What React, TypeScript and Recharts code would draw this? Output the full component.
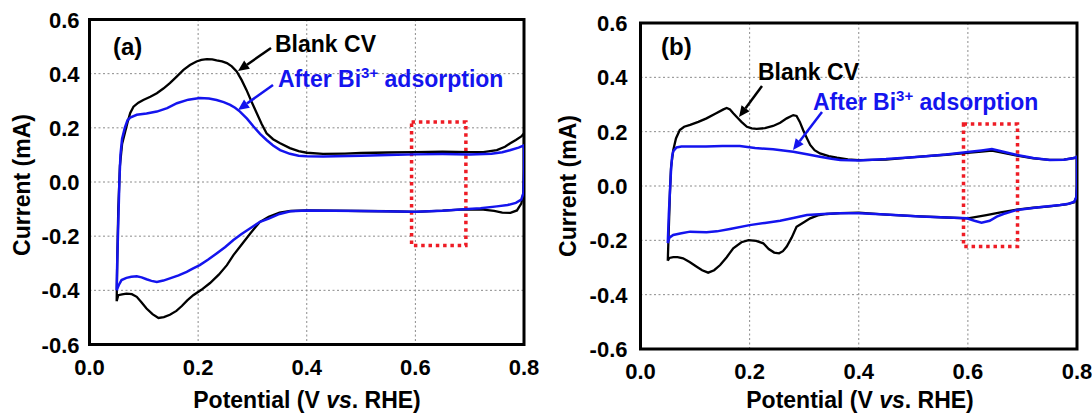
import { LineChart, Line, XAxis, YAxis, CartesianGrid, ReferenceArea } from 'recharts';

type Pt = [number, number];

const X_TICKS = [0, 0.2, 0.4, 0.6, 0.8];
const Y_TICKS = [-0.6, -0.4, -0.2, 0, 0.2, 0.4, 0.6];

// panel (a): blank CV vs after Bi3+ adsorption
const BLANK_A: Pt[] = [
  [0.05, -0.44], [0.051, -0.3], [0.053, -0.1], [0.056, 0.06], [0.06, 0.14], [0.065, 0.18],
  [0.07, 0.22], [0.075, 0.255], [0.081, 0.278], [0.09, 0.293], [0.099, 0.303], [0.112, 0.315], [0.124, 0.328],
  [0.136, 0.345], [0.148, 0.365], [0.161, 0.39], [0.173, 0.414], [0.185, 0.432], [0.197, 0.445],
  [0.206, 0.451], [0.216, 0.454], [0.226, 0.453], [0.234, 0.449], [0.244, 0.445], [0.253, 0.439],
  [0.262, 0.427], [0.271, 0.408], [0.28, 0.377], [0.289, 0.34], [0.298, 0.298], [0.308, 0.254],
  [0.317, 0.214], [0.326, 0.18], [0.338, 0.158], [0.351, 0.143], [0.369, 0.125], [0.385, 0.114],
  [0.4, 0.108], [0.43, 0.104], [0.47, 0.105], [0.5, 0.107], [0.55, 0.109], [0.6, 0.11],
  [0.65, 0.112], [0.7, 0.11], [0.725, 0.11], [0.75, 0.118], [0.765, 0.13], [0.774, 0.142],
  [0.785, 0.155], [0.795, 0.168], [0.8, 0.18],
  [0.8, 0.05], [0.799, -0.04], [0.795, -0.08], [0.787, -0.105], [0.775, -0.114], [0.76, -0.113],
  [0.745, -0.107], [0.725, -0.102], [0.69, -0.101], [0.65, -0.106], [0.6, -0.11], [0.55, -0.108],
  [0.5, -0.107], [0.45, -0.106], [0.4, -0.105], [0.37, -0.107], [0.35, -0.113], [0.33, -0.128],
  [0.314, -0.147], [0.305, -0.168], [0.296, -0.19], [0.287, -0.213], [0.277, -0.239], [0.265, -0.27],
  [0.253, -0.307], [0.238, -0.342], [0.222, -0.373], [0.206, -0.398], [0.191, -0.418], [0.18, -0.437],
  [0.17, -0.458], [0.16, -0.476], [0.148, -0.49], [0.137, -0.499], [0.127, -0.502], [0.116, -0.488],
  [0.105, -0.467], [0.096, -0.445], [0.087, -0.424], [0.078, -0.414], [0.068, -0.412], [0.06, -0.415],
  [0.053, -0.418], [0.05, -0.44],
];

const BI_A: Pt[] = [
  [0.05, -0.4], [0.051, -0.3], [0.053, -0.15], [0.055, 0.0], [0.057, 0.1], [0.06, 0.16],
  [0.065, 0.2], [0.07, 0.228], [0.075, 0.238], [0.087, 0.248], [0.105, 0.253], [0.124, 0.26],
  [0.143, 0.273], [0.161, 0.291], [0.182, 0.304], [0.203, 0.31], [0.22, 0.308], [0.234, 0.303],
  [0.247, 0.295], [0.259, 0.285], [0.268, 0.274], [0.277, 0.26], [0.29, 0.234], [0.302, 0.205],
  [0.314, 0.178], [0.326, 0.155], [0.338, 0.135], [0.351, 0.118], [0.369, 0.104], [0.385, 0.097],
  [0.4, 0.095], [0.43, 0.094], [0.5, 0.097], [0.55, 0.1], [0.6, 0.102], [0.65, 0.103],
  [0.7, 0.102], [0.74, 0.104], [0.76, 0.11], [0.774, 0.117], [0.79, 0.127], [0.8, 0.135],
  [0.8, 0.03], [0.799, -0.04], [0.795, -0.065], [0.785, -0.077], [0.77, -0.085], [0.75, -0.09],
  [0.72, -0.097], [0.69, -0.101], [0.65, -0.106], [0.6, -0.11], [0.5, -0.107], [0.4, -0.105],
  [0.37, -0.108], [0.35, -0.118], [0.33, -0.135], [0.314, -0.147], [0.296, -0.171], [0.28, -0.192],
  [0.265, -0.214], [0.25, -0.24], [0.234, -0.264], [0.218, -0.287], [0.203, -0.307], [0.19, -0.32],
  [0.179, -0.332], [0.164, -0.345], [0.148, -0.356], [0.136, -0.364], [0.124, -0.369], [0.114, -0.365],
  [0.105, -0.359], [0.096, -0.352], [0.087, -0.348], [0.077, -0.35], [0.068, -0.354], [0.059, -0.362],
  [0.054, -0.38], [0.05, -0.4],
];

// panel (b)
const BLANK_B: Pt[] = [
  [0.05, -0.275], [0.052, -0.15], [0.054, -0.02], [0.056, 0.07], [0.06, 0.132], [0.065, 0.175],
  [0.072, 0.206], [0.08, 0.218], [0.091, 0.225], [0.106, 0.236], [0.121, 0.249], [0.137, 0.266],
  [0.152, 0.282], [0.158, 0.287], [0.164, 0.282], [0.17, 0.268], [0.176, 0.255], [0.185, 0.236],
  [0.195, 0.218], [0.204, 0.212], [0.213, 0.21], [0.228, 0.213], [0.243, 0.221], [0.256, 0.233],
  [0.268, 0.249], [0.28, 0.261], [0.286, 0.258], [0.292, 0.236], [0.298, 0.206], [0.305, 0.176],
  [0.311, 0.151], [0.319, 0.132], [0.329, 0.12], [0.345, 0.11], [0.36, 0.104], [0.38, 0.098],
  [0.4, 0.095], [0.45, 0.097], [0.512, 0.108], [0.56, 0.115], [0.604, 0.123], [0.625, 0.127],
  [0.644, 0.13], [0.665, 0.122], [0.69, 0.112], [0.72, 0.102], [0.75, 0.096], [0.776, 0.097],
  [0.8, 0.105],
  [0.8, 0.0], [0.799, -0.04], [0.795, -0.06], [0.78, -0.068], [0.75, -0.075], [0.72, -0.08],
  [0.69, -0.087], [0.66, -0.097], [0.634, -0.107], [0.6, -0.119], [0.55, -0.115], [0.512, -0.112],
  [0.45, -0.105], [0.4, -0.098], [0.366, -0.1], [0.341, -0.103], [0.325, -0.108], [0.311, -0.119],
  [0.298, -0.135], [0.286, -0.15], [0.277, -0.19], [0.268, -0.223], [0.261, -0.24], [0.254, -0.248],
  [0.245, -0.245], [0.235, -0.232], [0.225, -0.211], [0.212, -0.202], [0.198, -0.199], [0.185, -0.207],
  [0.17, -0.229], [0.158, -0.262], [0.146, -0.291], [0.135, -0.31], [0.124, -0.319], [0.113, -0.31],
  [0.103, -0.297], [0.09, -0.28], [0.078, -0.266], [0.068, -0.262], [0.06, -0.262], [0.053, -0.265],
  [0.05, -0.275],
];

const BI_B: Pt[] = [
  [0.05, -0.21], [0.052, -0.1], [0.054, -0.02], [0.056, 0.06], [0.058, 0.11], [0.06, 0.128],
  [0.066, 0.142], [0.075, 0.145], [0.091, 0.145], [0.12, 0.145], [0.15, 0.147], [0.182, 0.147],
  [0.21, 0.14], [0.243, 0.135], [0.28, 0.126], [0.305, 0.117], [0.329, 0.108], [0.35, 0.1],
  [0.366, 0.096], [0.4, 0.094], [0.45, 0.099], [0.512, 0.108], [0.56, 0.116], [0.604, 0.126],
  [0.625, 0.131], [0.644, 0.136], [0.665, 0.126], [0.69, 0.114], [0.72, 0.103], [0.75, 0.096],
  [0.776, 0.097], [0.795, 0.103], [0.8, 0.108],
  [0.8, 0.0], [0.799, -0.04], [0.795, -0.058], [0.785, -0.065], [0.769, -0.07], [0.73, -0.078],
  [0.69, -0.088], [0.665, -0.103], [0.653, -0.113], [0.64, -0.128], [0.625, -0.135], [0.612, -0.128],
  [0.598, -0.119], [0.55, -0.115], [0.512, -0.112], [0.45, -0.105], [0.4, -0.1], [0.366, -0.1],
  [0.335, -0.103], [0.305, -0.107], [0.28, -0.118], [0.256, -0.128], [0.228, -0.136], [0.2, -0.144],
  [0.164, -0.158], [0.14, -0.167], [0.121, -0.17], [0.105, -0.169], [0.091, -0.168], [0.075, -0.174],
  [0.06, -0.18], [0.053, -0.19], [0.05, -0.21],
];

// dotted red boxes [x1, x2, y1, y2]
const BOX_A = [0.593, 0.693, -0.234, 0.222];
const BOX_B = [0.592, 0.691, -0.223, 0.228];

const FONT = "'Liberation Sans', Arial, sans-serif";
const BLUE = '#1414ee';
const RED = '#ee1c25';

const toPts = (arr: Pt[]) => arr.map(([x, y]) => ({ x, y }));
const fmt = (v: number) => v.toFixed(1);

const XTick = (props: any) => {
  const { x, y, payload } = props;
  return (
    <text x={x} y={y} dy={16} textAnchor="middle" fill="#000" fontSize={22} fontWeight={700} fontFamily={FONT}>
      {fmt(payload.value)}
    </text>
  );
};

const YTick = (props: any) => {
  const { x, y, payload } = props;
  return (
    <text x={x} y={y} dy={8} textAnchor="end" fill="#000" fontSize={22} fontWeight={700} fontFamily={FONT}>
      {fmt(payload.value)}
    </text>
  );
};

interface PanelProps {
  blank: Pt[];
  bi: Pt[];
  box: number[];
  margin: { top: number; right: number; bottom: number; left: number };
  yWidth: number;
  yTickMargin: number;
}

function Panel({ blank, bi, box, margin, yWidth, yTickMargin }: PanelProps) {
  return (
    <LineChart width={546} height={416} margin={margin}>
      <CartesianGrid stroke="#8a8a8a" strokeDasharray="2 2.5" />
      <XAxis
        dataKey="x"
        type="number"
        domain={[0, 0.8]}
        ticks={X_TICKS}
        axisLine={false}
        tickLine={false}
        tickMargin={8}
        height={40}
        tick={<XTick />}
        allowDataOverflow
      />
      <YAxis
        type="number"
        domain={[-0.6, 0.6]}
        ticks={Y_TICKS}
        axisLine={false}
        tickLine={false}
        tickMargin={yTickMargin}
        width={yWidth}
        tick={<YTick />}
        allowDataOverflow
      />
      <Line data={toPts(blank)} dataKey="y" type="linear" stroke="#000" strokeWidth={2.3} dot={false} isAnimationActive={false} />
      <Line data={toPts(bi)} dataKey="y" type="linear" stroke={BLUE} strokeWidth={2.5} dot={false} isAnimationActive={false} />
      <ReferenceArea
        x1={box[0]} x2={box[1]} y1={box[2]} y2={box[3]}
        fill="none" stroke={RED} strokeWidth={3.5} strokeDasharray="3.5 3.8" ifOverflow="visible"
      />
      <ReferenceArea
        x1={0} x2={0.8} y1={-0.6} y2={0.6}
        fill="none" stroke="#000" strokeWidth={3} ifOverflow="visible"
      />
    </LineChart>
  );
}

function Arrow({ x1, y1, x2, y2, color }: { x1: number; y1: number; x2: number; y2: number; color: string }) {
  const a = Math.atan2(y2 - y1, x2 - x1);
  const len = 11;
  const half = 5;
  const bx = x2 - len * Math.cos(a);
  const by = y2 - len * Math.sin(a);
  const px = -Math.sin(a) * half;
  const py = Math.cos(a) * half;
  return (
    <g>
      <line x1={x1} y1={y1} x2={bx} y2={by} stroke={color} strokeWidth={2.5} />
      <polygon points={`${x2},${y2} ${bx + px},${by + py} ${bx - px},${by - py}`} fill={color} />
    </g>
  );
}

function Annotations() {
  const t = { fontFamily: FONT, fontWeight: 700, fontSize: 23 } as const;
  return (
    <svg width={1092} height={416} style={{ position: 'absolute', left: 0, top: 0, pointerEvents: 'none' }}>
      {/* axis titles */}
      <text {...t} fill="#000" textAnchor="middle" transform="translate(30,185) rotate(-90)">Current (mA)</text>
      <text {...t} fill="#000" textAnchor="middle" transform="translate(576,186) rotate(-90)">Current (mA)</text>
      <text {...t} fill="#000" textAnchor="middle" x={307} y={408}>
        Potential (V <tspan fontStyle="italic">vs</tspan>. RHE)
      </text>
      <text {...t} fill="#000" textAnchor="middle" x={860} y={408}>
        Potential (V <tspan fontStyle="italic">vs</tspan>. RHE)
      </text>

      {/* panel (a) */}
      <text {...t} fontSize={24} fill="#000" x={113} y={55}>(a)</text>
      <text {...t} fill="#000" x={275} y={52}>Blank CV</text>
      <Arrow x1={271} y1={48} x2={238} y2={71} color="#000" />
      <text {...t} fill={BLUE} x={278} y={87}>
        After Bi<tspan fontSize={15} dy={-9}>3+</tspan><tspan dy={9}> adsorption</tspan>
      </text>
      <Arrow x1={273} y1={85} x2={238} y2={110} color={BLUE} />

      {/* panel (b) */}
      <text {...t} fontSize={24} fill="#000" x={661} y={55}>(b)</text>
      <text {...t} fill="#000" x={758} y={80}>Blank CV</text>
      <Arrow x1={762} y1={86} x2={739} y2={117} color="#000" />
      <text {...t} fill={BLUE} x={813} y={110}>
        After Bi<tspan fontSize={15} dy={-9}>3+</tspan><tspan dy={9}> adsorption</tspan>
      </text>
      <Arrow x1={822} y1={112} x2={793} y2={150} color={BLUE} />
    </svg>
  );
}

export default function App() {
  return (
    <div style={{ position: 'absolute', left: 0, top: 0, width: 1092, height: 416, background: '#fff' }}>
      <div style={{ position: 'absolute', left: 0, top: 0 }}>
        <Panel
          blank={BLANK_A}
          bi={BI_A}
          box={BOX_A}
          margin={{ top: 19.5, right: 22, bottom: 31.5, left: 0 }}
          yWidth={89.5}
          yTickMargin={4}
        />
      </div>
      <div style={{ position: 'absolute', left: 546, top: 0 }}>
        <Panel
          blank={BLANK_B}
          bi={BI_B}
          box={BOX_B}
          margin={{ top: 23, right: 15, bottom: 27, left: 0 }}
          yWidth={94.5}
          yTickMargin={7}
        />
      </div>
      <Annotations />
    </div>
  );
}
